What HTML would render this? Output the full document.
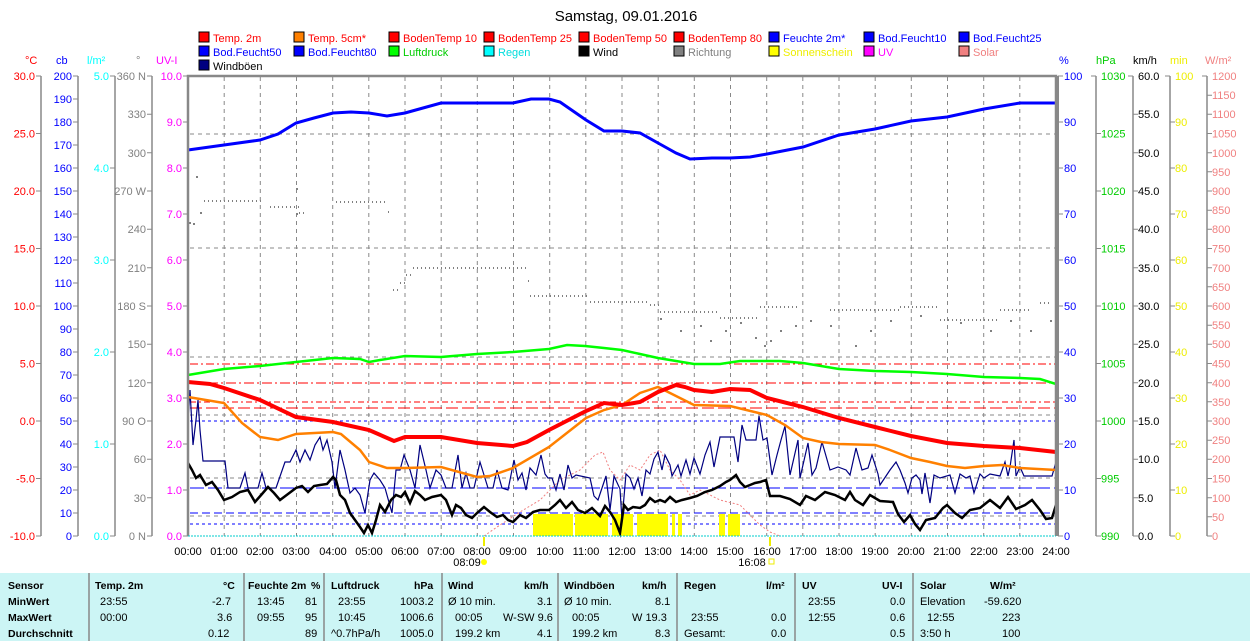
<!DOCTYPE html>
<html><head><meta charset="utf-8"><style>
body{margin:0;width:1250px;height:641px;background:#fff;overflow:hidden;font-family:"Liberation Sans",sans-serif}
svg{position:absolute;left:0;top:0}
.t{position:absolute;font-size:11px;white-space:nowrap}
.b{font-weight:bold;font-size:10.5px}
</style></head><body>
<svg width="1250" height="641" viewBox="0 0 1250 641" font-family="Liberation Sans, sans-serif" font-size="11">
<text x="626" y="21" text-anchor="middle" font-size="15" fill="#000">Samstag, 09.01.2016</text>
<!-- legend -->
<g font-size="11">
<rect x="199" y="32" width="10" height="10" fill="#f00" stroke="#000"/><text x="213" y="42" fill="#f00">Temp. 2m</text>
<rect x="294" y="32" width="10" height="10" fill="#ff8000" stroke="#000"/><text x="308" y="42" fill="#f00">Temp. 5cm*</text>
<rect x="389" y="32" width="10" height="10" fill="#f00" stroke="#000"/><text x="403" y="42" fill="#f00">BodenTemp 10</text>
<rect x="484" y="32" width="10" height="10" fill="#f00" stroke="#000"/><text x="498" y="42" fill="#f00">BodenTemp 25</text>
<rect x="579" y="32" width="10" height="10" fill="#f00" stroke="#000"/><text x="593" y="42" fill="#f00">BodenTemp 50</text>
<rect x="674" y="32" width="10" height="10" fill="#f00" stroke="#000"/><text x="688" y="42" fill="#f00">BodenTemp 80</text>
<rect x="769" y="32" width="10" height="10" fill="#00f" stroke="#000"/><text x="783" y="42" fill="#00f">Feuchte 2m*</text>
<rect x="864" y="32" width="10" height="10" fill="#00f" stroke="#000"/><text x="878" y="42" fill="#00f">Bod.Feucht10</text>
<rect x="959" y="32" width="10" height="10" fill="#00f" stroke="#000"/><text x="973" y="42" fill="#00f">Bod.Feucht25</text>
<rect x="199" y="46" width="10" height="10" fill="#00f" stroke="#000"/><text x="213" y="56" fill="#00f">Bod.Feucht50</text>
<rect x="294" y="46" width="10" height="10" fill="#00f" stroke="#000"/><text x="308" y="56" fill="#00f">Bod.Feucht80</text>
<rect x="389" y="46" width="10" height="10" fill="#0f0" stroke="#000"/><text x="403" y="56" fill="#0c0">Luftdruck</text>
<rect x="484" y="46" width="10" height="10" fill="#0ff" stroke="#000"/><text x="498" y="56" fill="#0dd">Regen</text>
<rect x="579" y="46" width="10" height="10" fill="#000" stroke="#000"/><text x="593" y="56" fill="#000">Wind</text>
<rect x="674" y="46" width="10" height="10" fill="#808080" stroke="#000"/><text x="688" y="56" fill="#808080">Richtung</text>
<rect x="769" y="46" width="10" height="10" fill="#ff0" stroke="#000"/><text x="783" y="56" fill="#ee0">Sonnenschein</text>
<rect x="864" y="46" width="10" height="10" fill="#f0f" stroke="#000"/><text x="878" y="56" fill="#f0f">UV</text>
<rect x="959" y="46" width="10" height="10" fill="#f08080" stroke="#000"/><text x="973" y="56" fill="#f08080">Solar</text>
<rect x="199" y="60" width="10" height="10" fill="#000080" stroke="#000"/><text x="213" y="70" fill="#000">Windböen</text>
</g>
<!-- axis unit labels -->
<text x="25" y="64" fill="#f00">°C</text><text x="56" y="64" fill="#00f">cb</text><text x="87" y="64" fill="#0ff">l/m²</text><text x="136" y="64" fill="#808080">°</text><text x="156" y="64" fill="#f0f">UV-I</text>
<text x="1059" y="64" fill="#00f">%</text><text x="1096" y="64" fill="#0c0">hPa</text><text x="1133" y="64" fill="#000">km/h</text><text x="1170" y="64" fill="#ee0">min</text><text x="1205" y="64" fill="#f08080">W/m²</text>
<!-- axis lines -->
<g stroke="#888" stroke-width="1.5">
<line x1="41" y1="76" x2="41" y2="536"/><line x1="78" y1="76" x2="78" y2="536"/><line x1="115" y1="76" x2="115" y2="536"/><line x1="152" y1="76" x2="152" y2="536"/>
<line x1="1096" y1="76" x2="1096" y2="536"/><line x1="1133" y1="76" x2="1133" y2="536"/><line x1="1170" y1="76" x2="1170" y2="536"/><line x1="1207" y1="76" x2="1207" y2="536"/>
</g>
<!-- left ticks -->
<g stroke="#888">
<path d="M36 76h5M36 133.5h5M36 191h5M36 248.5h5M36 306h5M36 363.5h5M36 421h5M36 478.5h5M36 536h5"/>
<path d="M73 76h5M73 99h5M73 122h5M73 145h5M73 168h5M73 191h5M73 214h5M73 237h5M73 260h5M73 283h5M73 306h5M73 329h5M73 352h5M73 375h5M73 398h5M73 421h5M73 444h5M73 467h5M73 490h5M73 513h5M73 536h5"/>
<path d="M110 76h5M110 168h5M110 260h5M110 352h5M110 444h5M110 536h5"/>
<path d="M147 76h5M147 114.3h5M147 152.7h5M147 191h5M147 229.3h5M147 267.7h5M147 306h5M147 344.3h5M147 382.7h5M147 421h5M147 459.3h5M147 497.7h5M147 536h5"/>
<path d="M183 76h5M183 122h5M183 168h5M183 214h5M183 260h5M183 306h5M183 352h5M183 398h5M183 444h5M183 490h5M183 536h5"/>
<path d="M1058 76h5M1058 122h5M1058 168h5M1058 214h5M1058 260h5M1058 306h5M1058 352h5M1058 398h5M1058 444h5M1058 490h5M1058 536h5"/>
<path d="M1091 76h5M1096 133.5h5M1096 191h5M1096 248.5h5M1096 306h5M1096 363.5h5M1096 421h5M1096 478.5h5M1096 536h5"/>
<path d="M1128 76h5M1133 114.3h5M1133 152.7h5M1133 191h5M1133 229.3h5M1133 267.7h5M1133 306h5M1133 344.3h5M1133 382.7h5M1133 421h5M1133 459.3h5M1133 497.7h5M1133 536h5"/>
<path d="M1165 76h5M1170 122h5M1170 168h5M1170 214h5M1170 260h5M1170 306h5M1170 352h5M1170 398h5M1170 444h5M1170 490h5M1170 536h5"/>
<path d="M1202 76h5M1207 95.2h5M1207 114.3h5M1207 133.5h5M1207 152.7h5M1207 171.8h5M1207 191h5M1207 210.2h5M1207 229.3h5M1207 248.5h5M1207 267.7h5M1207 286.8h5M1207 306h5M1207 325.2h5M1207 344.3h5M1207 363.5h5M1207 382.7h5M1207 401.8h5M1207 421h5M1207 440.2h5M1207 459.3h5M1207 478.5h5M1207 497.7h5M1207 516.8h5M1207 536h5"/>
</g>
<g text-anchor="end" fill="#f00">
<text x="35" y="80">30.0</text><text x="35" y="137.5">25.0</text><text x="35" y="195">20.0</text><text x="35" y="252.5">15.0</text><text x="35" y="310">10.0</text><text x="35" y="367.5">5.0</text><text x="35" y="425">0.0</text><text x="35" y="482.5">-5.0</text><text x="35" y="540">-10.0</text>
</g>
<g text-anchor="end" fill="#00f">
<text x="72" y="80">200</text><text x="72" y="103">190</text><text x="72" y="126">180</text><text x="72" y="149">170</text><text x="72" y="172">160</text><text x="72" y="195">150</text><text x="72" y="218">140</text><text x="72" y="241">130</text><text x="72" y="264">120</text><text x="72" y="287">110</text><text x="72" y="310">100</text><text x="72" y="333">90</text><text x="72" y="356">80</text><text x="72" y="379">70</text><text x="72" y="402">60</text><text x="72" y="425">50</text><text x="72" y="448">40</text><text x="72" y="471">30</text><text x="72" y="494">20</text><text x="72" y="517">10</text><text x="72" y="540">0</text>
</g>
<g text-anchor="end" fill="#0ff">
<text x="109" y="80">5.0</text><text x="109" y="172">4.0</text><text x="109" y="264">3.0</text><text x="109" y="356">2.0</text><text x="109" y="448">1.0</text><text x="109" y="540">0.0</text>
</g>
<g text-anchor="end" fill="#808080">
<text x="146" y="80">360 N</text><text x="146" y="118">330</text><text x="146" y="157">300</text><text x="146" y="195">270 W</text><text x="146" y="233">240</text><text x="146" y="272">210</text><text x="146" y="310">180 S</text><text x="146" y="348">150</text><text x="146" y="387">120</text><text x="146" y="425">90 O</text><text x="146" y="463">60</text><text x="146" y="502">30</text><text x="146" y="540">0 N</text>
</g>
<g text-anchor="end" fill="#f0f">
<text x="182" y="80">10.0</text><text x="182" y="126">9.0</text><text x="182" y="172">8.0</text><text x="182" y="218">7.0</text><text x="182" y="264">6.0</text><text x="182" y="310">5.0</text><text x="182" y="356">4.0</text><text x="182" y="402">3.0</text><text x="182" y="448">2.0</text><text x="182" y="494">1.0</text><text x="182" y="540">0.0</text>
</g>
<g fill="#00f">
<text x="1064" y="80">100</text><text x="1064" y="126">90</text><text x="1064" y="172">80</text><text x="1064" y="218">70</text><text x="1064" y="264">60</text><text x="1064" y="310">50</text><text x="1064" y="356">40</text><text x="1064" y="402">30</text><text x="1064" y="448">20</text><text x="1064" y="494">10</text><text x="1064" y="540">0</text>
</g>
<g fill="#0c0">
<text x="1101" y="80">1030</text><text x="1101" y="137.5">1025</text><text x="1101" y="195">1020</text><text x="1101" y="252.5">1015</text><text x="1101" y="310">1010</text><text x="1101" y="367.5">1005</text><text x="1101" y="425">1000</text><text x="1101" y="482.5">995</text><text x="1101" y="540">990</text>
</g>
<g fill="#000">
<text x="1138" y="80">60.0</text><text x="1138" y="118">55.0</text><text x="1138" y="157">50.0</text><text x="1138" y="195">45.0</text><text x="1138" y="233">40.0</text><text x="1138" y="272">35.0</text><text x="1138" y="310">30.0</text><text x="1138" y="348">25.0</text><text x="1138" y="387">20.0</text><text x="1138" y="425">15.0</text><text x="1138" y="463">10.0</text><text x="1138" y="502">5.0</text><text x="1138" y="540">0.0</text>
</g>
<g fill="#ee0">
<text x="1175" y="80">100</text><text x="1175" y="126">90</text><text x="1175" y="172">80</text><text x="1175" y="218">70</text><text x="1175" y="264">60</text><text x="1175" y="310">50</text><text x="1175" y="356">40</text><text x="1175" y="402">30</text><text x="1175" y="448">20</text><text x="1175" y="494">10</text><text x="1175" y="540">0</text>
</g>
<g fill="#f08080">
<text x="1212" y="80">1200</text><text x="1212" y="99">1150</text><text x="1212" y="118">1100</text><text x="1212" y="137.5">1050</text><text x="1212" y="157">1000</text><text x="1212" y="176">950</text><text x="1212" y="195">900</text><text x="1212" y="214">850</text><text x="1212" y="233">800</text><text x="1212" y="252.5">750</text><text x="1212" y="272">700</text><text x="1212" y="291">650</text><text x="1212" y="310">600</text><text x="1212" y="329">550</text><text x="1212" y="348">500</text><text x="1212" y="367.5">450</text><text x="1212" y="387">400</text><text x="1212" y="406">350</text><text x="1212" y="425">300</text><text x="1212" y="444">250</text><text x="1212" y="463">200</text><text x="1212" y="482.5">150</text><text x="1212" y="502">100</text><text x="1212" y="521">50</text><text x="1212" y="540">0</text>
</g>
<!-- grid -->
<g stroke="#888" stroke-dasharray="4 4" stroke-width="1">
<path d="M224.2 77V536M260.3 77V536M296.5 77V536M332.7 77V536M368.8 77V536M405 77V536M441.2 77V536M477.3 77V536M513.5 77V536M549.7 77V536M585.8 77V536M622 77V536M658.2 77V536M694.3 77V536M730.5 77V536M766.7 77V536M802.8 77V536M839 77V536M875.2 77V536M911.3 77V536M947.5 77V536M983.7 77V536M1019.8 77V536"/>
<path d="M190 134H1056M190 248H1056M190 357H1056M190 415H1056M190 478H1056M190 516H1056"/>
</g>
<!-- reference lines -->
<g fill="none" stroke-width="1">
<path d="M190 364H1056" stroke="#f00" stroke-dasharray="8 3 2 3"/>
<path d="M190 383H1056" stroke="#f00" stroke-dasharray="10 3 2 3"/>
<path d="M190 402H1056" stroke="#f00" stroke-dasharray="6 3 2 3"/>
<path d="M190 408H1056" stroke="#f00" stroke-dasharray="12 4"/>
<path d="M190 421H1056" stroke="#00f" stroke-dasharray="3 3"/>
<path d="M190 488H1056" stroke="#00f" stroke-dasharray="14 4"/>
<path d="M190 513H1056" stroke="#00f" stroke-dasharray="8 4"/>
<path d="M190 524H1056" stroke="#00f" stroke-dasharray="3 3"/>
</g>
<!-- sunshine -->
<g fill="#ff0">
<rect x="533" y="514" width="40" height="22"/><rect x="575" y="514" width="32" height="22"/><rect x="600" y="514" width="8" height="22"/><rect x="612" y="514" width="21" height="22"/><rect x="637" y="514" width="31" height="22"/><rect x="672" y="514" width="3" height="22"/><rect x="678" y="514" width="4" height="22"/><rect x="719" y="514" width="6" height="22"/><rect x="728" y="514" width="12" height="22"/>
</g>
<!-- solar -->
<polyline fill="none" stroke="#f08080" stroke-dasharray="2 2" points="484,536 500,525 520,512 540,500 560,480 580,470 595,455 603,452 610,470 620,480 630,465 640,470 650,455 660,450 670,470 680,480 690,495 700,490 720,500 740,505 750,515 760,525 770,532 780,536"/>
<!-- direction -->
<g fill="none" stroke="#808080" stroke-width="2" stroke-dasharray="1 3">
<path d="M204 201H262M270 207H300M299 213H306M336 202H386M388 212H392"/>
<path d="M393 290H400M400 283H406M406 275H413M413 268H528M528 281H531M530 296H590M590 302H650M650 305H660"/>
<path d="M660 312H720M720 318H760M760 307H800M830 310H900M900 307H940M940 320H1000M1000 310H1030M1040 303H1052"/>
</g>
<g fill="#808080">
<rect x="189" y="222" width="2" height="2"/><rect x="193" y="223" width="2" height="2"/><rect x="196" y="176" width="2" height="2"/><rect x="200" y="212" width="2" height="2"/><rect x="296" y="188" width="2" height="2"/><rect x="296" y="213" width="2" height="2"/>
<rect x="660" y="318" width="2" height="2"/><rect x="680" y="330" width="2" height="2"/><rect x="700" y="325" width="2" height="2"/><rect x="710" y="340" width="2" height="2"/><rect x="725" y="330" width="2" height="2"/><rect x="740" y="322" width="2" height="2"/><rect x="755" y="337" width="2" height="2"/><rect x="764" y="345" width="2" height="2"/><rect x="770" y="340" width="2" height="2"/><rect x="780" y="330" width="2" height="2"/><rect x="795" y="325" width="2" height="2"/><rect x="810" y="320" width="2" height="2"/><rect x="830" y="325" width="2" height="2"/><rect x="855" y="345" width="2" height="2"/><rect x="870" y="330" width="2" height="2"/><rect x="890" y="320" width="2" height="2"/><rect x="920" y="315" width="2" height="2"/><rect x="960" y="322" width="2" height="2"/><rect x="990" y="330" width="2" height="2"/><rect x="1010" y="320" width="2" height="2"/><rect x="1030" y="330" width="2" height="2"/><rect x="1050" y="320" width="2" height="2"/>
</g>
<!-- series -->
<polyline fill="none" stroke="#00f" stroke-width="3" points="188,150 224,145 260,140 278,134 296,123 314,118 333,113 351,112 369,113 387,116 405,113 423,108 441,103 477,103 513,103 531,99 549,99 560,102 586,120 604,131 622,131 640,133 658,143 676,153 690,159 712,158 730,158 750,157 767,154 803,147 839,135 875,129 911,121 947,117 984,109 1020,103 1056,103"/>
<polyline fill="none" stroke="#0f0" stroke-width="2.5" points="188,375 200,373 224,369 260,366 296,362 333,358 360,359 369,362 380,360 405,356 441,357 477,354 513,352 549,349 567,345 585,346 604,348 622,350 640,354 658,358 676,361 694,364 720,364 740,361 760,361 780,361 803,363 839,369 875,371 911,372 947,374 984,377 1020,378 1040,379 1056,384"/>
<polyline fill="none" stroke="#000080" stroke-width="1.2" points="188,420 190,390 193,445 196,420 198,400 200,430 203,461 222,461 225,461 228,488 240,488 245,473 248,488 258,488 262,473 266,488 276,488 285,462 290,462 296,450 300,462 305,450 310,460 315,445 320,437 323,450 327,440 332,462 335,488 340,450 345,470 350,493 355,488 360,495 365,513 370,480 374,473 380,480 385,488 392,513 396,470 400,470 404,455 410,470 415,488 420,445 426,470 430,488 436,470 441,475 446,488 452,488 458,455 462,488 466,473 470,488 474,488 480,462 484,475 488,488 493,488 497,470 502,488 508,490 514,460 518,480 522,473 526,490 530,468 536,475 541,455 545,474 548,478 552,478 556,490 560,474 564,490 568,465 572,478 576,475 590,478 594,496 598,500 603,485 606,476 610,510 614,476 620,489 622,520 626,474 630,478 634,489 638,478 642,496 646,470 650,474 654,459 658,452 662,470 665,455 670,465 672,476 678,465 681,476 686,460 690,474 694,458 700,474 705,455 710,442 714,467 720,437 734,437 738,462 742,425 746,440 756,440 759,416 763,440 767,438 772,475 777,455 781,440 785,426 790,475 798,440 800,478 808,443 812,475 816,468 822,442 830,470 838,467 846,470 850,475 856,448 862,470 868,468 872,455 878,474 880,485 890,470 896,462 900,470 905,483 908,493 912,478 916,475 920,480 922,494 925,473 930,503 934,475 940,478 950,475 955,493 960,474 966,478 970,476 974,493 980,474 984,478 990,474 1000,476 1005,462 1008,476 1010,467 1014,440 1016,476 1020,467 1024,476 1052,476 1056,462"/>
<polyline fill="none" stroke="#ff8000" stroke-width="2.5" points="188,397 224,403 242,423 260,437 278,440 296,434 333,432 341,434 360,450 369,462 387,468 405,468 441,467 477,477 490,476 513,468 549,447 586,418 604,410 622,405 640,393 658,387 670,393 694,405 730,406 767,415 785,425 803,438 821,442 839,444 875,445 890,450 911,458 930,462 947,466 965,468 984,466 1002,465 1020,468 1056,470"/>
<polyline fill="none" stroke="#f00" stroke-width="4" points="188,382 210,384 224,388 260,400 296,417 333,422 369,430 394,441 405,437 441,437 477,443 513,446 527,442 549,430 586,411 604,403 622,405 640,402 658,392 676,385 685,387 694,390 712,392 730,389 750,390 767,398 803,407 839,418 875,427 911,436 947,443 984,446 1020,448 1056,452"/>
<polyline fill="none" stroke="#000" stroke-width="2.5" points="188,463 192,470 196,478 200,475 206,485 212,482 218,490 224,500 232,497 240,492 248,490 255,502 262,494 268,487 274,493 280,500 288,494 296,488 302,486 308,492 314,486 320,485 327,484 333,477 336,480 340,495 345,500 350,513 355,520 360,527 364,533 368,525 372,533 376,520 380,505 385,512 391,500 396,495 401,497 405,492 410,503 415,491 420,495 425,500 432,497 441,495 446,500 452,515 456,505 461,508 466,515 472,518 477,513 484,507 490,512 497,517 503,515 508,520 513,522 520,515 526,518 533,512 540,510 549,510 555,505 560,500 566,508 572,502 578,510 585,513 592,508 600,516 605,506 610,512 615,520 620,533 624,505 628,510 633,507 640,508 645,505 650,498 655,502 660,500 665,502 670,497 676,502 682,500 690,498 697,496 705,492 712,490 720,486 726,482 730,480 736,475 740,482 745,487 750,485 755,483 760,482 766,480 770,496 780,496 790,499 800,505 806,496 815,500 825,492 835,495 845,500 850,492 855,500 863,505 870,495 880,501 893,502 898,514 904,522 910,515 915,524 920,530 926,520 935,518 943,508 947,505 955,513 962,518 970,510 980,508 990,500 1000,508 1008,497 1016,509 1025,505 1032,500 1040,510 1046,519 1052,518 1056,505"/>
<!-- frame -->
<path d="M188 536V76H1056V536" fill="none" stroke="#888" stroke-width="2.5"/>
<line x1="1058" y1="76" x2="1058" y2="536" stroke="#888" stroke-width="2"/>
<line x1="188" y1="536" x2="1056" y2="536" stroke="#0cc" stroke-width="1" stroke-dasharray="2 1"/>
<!-- x labels -->
<g text-anchor="middle" fill="#000">
<text x="188" y="555">00:00</text><text x="224" y="555">01:00</text><text x="260" y="555">02:00</text><text x="296" y="555">03:00</text><text x="333" y="555">04:00</text><text x="369" y="555">05:00</text><text x="405" y="555">06:00</text><text x="441" y="555">07:00</text><text x="477" y="555">08:00</text><text x="513" y="555">09:00</text><text x="550" y="555">10:00</text><text x="586" y="555">11:00</text><text x="622" y="555">12:00</text><text x="658" y="555">13:00</text><text x="694" y="555">14:00</text><text x="730" y="555">15:00</text><text x="767" y="555">16:00</text><text x="803" y="555">17:00</text><text x="839" y="555">18:00</text><text x="875" y="555">19:00</text><text x="911" y="555">20:00</text><text x="947" y="555">21:00</text><text x="984" y="555">22:00</text><text x="1020" y="555">23:00</text><text x="1056" y="555">24:00</text>
<text x="467" y="566">08:09</text><text x="752" y="566">16:08</text>
</g>
<rect x="483" y="537" width="2" height="9" fill="#ee0"/><rect x="769" y="537" width="2" height="9" fill="#ee0"/>
<circle cx="484" cy="562" r="3" fill="#ff0"/><rect x="769" y="559" width="5" height="5" fill="none" stroke="#ee0"/>
<!-- table -->
<rect x="0" y="573" width="1250" height="68" fill="#ccf5f5"/>
<g stroke="#888" stroke-width="1.5"><path d="M89 573V641M244 573V641M324 573V641M442 573V641M558 573V641M677 573V641M795 573V641M913 573V641"/></g>
</svg>
<div class="t b" style="left:8px;top:580px">Sensor</div>
<div class="t b" style="left:8px;top:596px">MinWert</div>
<div class="t b" style="left:8px;top:612px">MaxWert</div>
<div class="t b" style="left:8px;top:628px">Durchschnitt</div>
<div class="t b" style="left:95px;top:580px">Temp. 2m</div><div class="t b" style="left:223px;top:580px">°C</div>
<div class="t" style="left:100px;top:596px">23:55</div><div class="t" style="left:212px;top:596px">-2.7</div>
<div class="t" style="left:100px;top:612px">00:00</div><div class="t" style="left:217px;top:612px">3.6</div>
<div class="t" style="left:208px;top:628px">0.12</div>
<div class="t b" style="left:248px;top:580px">Feuchte 2m</div><div class="t b" style="left:311px;top:580px">%</div>
<div class="t" style="left:257px;top:596px">13:45</div><div class="t" style="left:305px;top:596px">81</div>
<div class="t" style="left:257px;top:612px">09:55</div><div class="t" style="left:305px;top:612px">95</div>
<div class="t" style="left:305px;top:628px">89</div>
<div class="t b" style="left:331px;top:580px">Luftdruck</div><div class="t b" style="left:414px;top:580px">hPa</div>
<div class="t" style="left:338px;top:596px">23:55</div><div class="t" style="left:400px;top:596px">1003.2</div>
<div class="t" style="left:338px;top:612px">10:45</div><div class="t" style="left:400px;top:612px">1006.6</div>
<div class="t" style="left:331px;top:628px">^0.7hPa/h</div><div class="t" style="left:400px;top:628px">1005.0</div>
<div class="t b" style="left:448px;top:580px">Wind</div><div class="t b" style="left:524px;top:580px">km/h</div>
<div class="t" style="left:448px;top:596px">Ø 10 min.</div><div class="t" style="left:537px;top:596px">3.1</div>
<div class="t" style="left:455px;top:612px">00:05</div><div class="t" style="left:503px;top:612px">W-SW 9.6</div>
<div class="t" style="left:455px;top:628px">199.2 km</div><div class="t" style="left:537px;top:628px">4.1</div>
<div class="t b" style="left:564px;top:580px">Windböen</div><div class="t b" style="left:642px;top:580px">km/h</div>
<div class="t" style="left:564px;top:596px">Ø 10 min.</div><div class="t" style="left:655px;top:596px">8.1</div>
<div class="t" style="left:572px;top:612px">00:05</div><div class="t" style="left:632px;top:612px">W 19.3</div>
<div class="t" style="left:572px;top:628px">199.2 km</div><div class="t" style="left:655px;top:628px">8.3</div>
<div class="t b" style="left:684px;top:580px">Regen</div><div class="t b" style="left:766px;top:580px">l/m²</div>
<div class="t" style="left:691px;top:612px">23:55</div><div class="t" style="left:771px;top:612px">0.0</div>
<div class="t" style="left:684px;top:628px">Gesamt:</div><div class="t" style="left:771px;top:628px">0.0</div>
<div class="t b" style="left:802px;top:580px">UV</div><div class="t b" style="left:882px;top:580px">UV-I</div>
<div class="t" style="left:808px;top:596px">23:55</div><div class="t" style="left:890px;top:596px">0.0</div>
<div class="t" style="left:808px;top:612px">12:55</div><div class="t" style="left:890px;top:612px">0.6</div>
<div class="t" style="left:890px;top:628px">0.5</div>
<div class="t b" style="left:920px;top:580px">Solar</div><div class="t b" style="left:990px;top:580px">W/m²</div>
<div class="t" style="left:920px;top:596px">Elevation</div><div class="t" style="left:984px;top:596px">-59.620</div>
<div class="t" style="left:927px;top:612px">12:55</div><div class="t" style="left:1002px;top:612px">223</div>
<div class="t" style="left:920px;top:628px">3:50 h</div><div class="t" style="left:1002px;top:628px">100</div>
</body></html>
